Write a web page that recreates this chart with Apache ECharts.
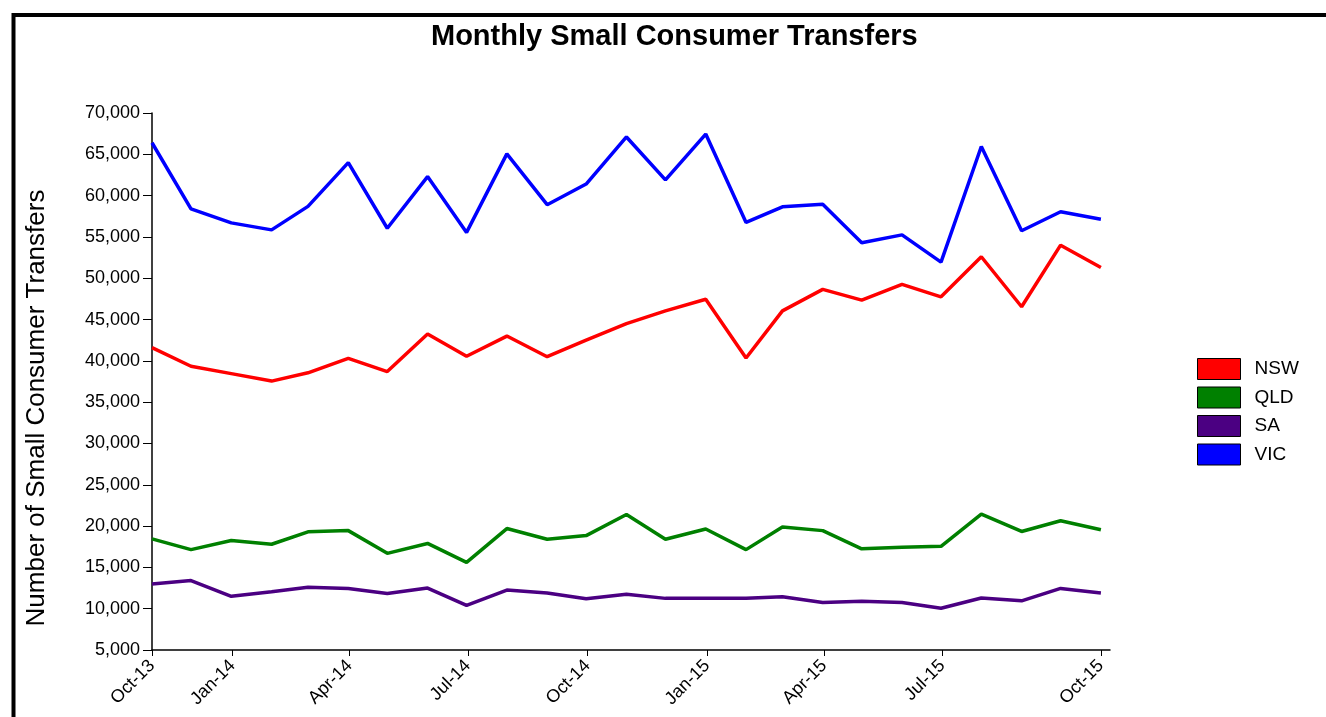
<!DOCTYPE html>
<html>
<head>
<meta charset="utf-8">
<script src="https://cdn.jsdelivr.net/npm/echarts@6/dist/echarts.min.js"></script>
<style>
  html, body { margin: 0; padding: 0; background: #fff; }
  #chart { width: 1326px; height: 717px; }
</style>
</head>
<body>
<div id="chart"></div>
<script>
// month-end dates of each observation
const months = [
  '2013-10-31', '2013-11-30', '2013-12-31', '2014-01-31', '2014-02-28', '2014-03-31',
  '2014-04-30', '2014-05-31', '2014-06-30', '2014-07-31', '2014-08-31', '2014-09-30',
  '2014-10-31', '2014-11-30', '2014-12-31', '2015-01-31', '2015-02-28', '2015-03-31',
  '2015-04-30', '2015-05-31', '2015-06-30', '2015-07-31', '2015-08-31', '2015-09-30',
  '2015-10-31'
]

const nsw = [41600, 39350, 38450, 37550, 38550, 40300, 38700, 43250, 40550, 43000, 40500, 42500,
  44500, 46050, 47450, 40350, 46050, 48650, 47350, 49250, 47750, 52600, 46550, 54000, 51300]
const qld = [18450, 17150, 18250, 17800, 19300, 19450, 16700, 17900, 15600, 19700, 18400, 18850,
  21400, 18400, 19650, 17150, 19900, 19450, 17250, 17450, 17550, 21450, 19350, 20650, 19550]
const sa = [13000, 13400, 11500, 12050, 12600, 12450, 11850, 12500, 10400, 12250, 11900, 11200,
  11750, 11250, 11250, 11250, 11450, 10750, 10900, 10750, 10050, 11300, 10950, 12450, 11900]
const vic = [66400, 58400, 56700, 55850, 58700, 64000, 56050, 62300, 55550, 65050, 58900, 61400,
  67100, 61900, 67450, 56750, 58650, 58950, 54300, 55250, 51950, 65950, 55750, 58050, 57150]

// tick labels: domain ends plus quarter starts
const tickDates = ['2013-10-31', '2014-01-01', '2014-04-01', '2014-07-01', '2014-10-01',
  '2015-01-01', '2015-04-01', '2015-07-01', '2015-10-31']
const monthNames = ['Jan', 'Feb', 'Mar', 'Apr', 'May', 'Jun', 'Jul', 'Aug', 'Sep', 'Oct', 'Nov', 'Dec']

function toTime(s) {
  const p = s.split('-').map(Number)
  return Date.UTC(p[0], p[1] - 1, p[2])
}
function pairs(vals) {
  return vals.map((v, i) => [toTime(months[i]), v])
}

const FONT = 'Liberation Sans'
const chart = echarts.init(document.getElementById('chart'))

chart.setOption({
  backgroundColor: '#ffffff',
  animation: false,
  title: {
    text: 'Monthly Small Consumer Transfers',
    left: 431,
    top: 22,
    padding: 0,
    textStyle: {fontFamily: FONT, fontWeight: 'bold', fontSize: 29, color: '#000'},
  },
  /** 外框 + Y轴标题 */
  graphic: [
    {
      type: 'rect',
      shape: {x: 13.5, y: 15, width: 1400, height: 800},
      style: {fill: 'none', stroke: '#000', lineWidth: 4},
      silent: true,
    },
    {
      type: 'text',
      x: 37,
      y: 408,
      rotation: Math.PI / 2,
      style: {
        text: 'Number of Small Consumer Transfers',
        fontFamily: FONT,
        fontSize: 26,
        fill: '#000',
        align: 'center',
        verticalAlign: 'middle',
      },
    },
  ],
  legend: {
    orient: 'vertical',
    left: 1197,
    top: 358,
    padding: 0,
    icon: 'rect',
    itemWidth: 43,
    itemHeight: 21,
    itemGap: 6.5,
    itemStyle: {borderColor: '#000', borderWidth: 1},
    textStyle: {fontFamily: FONT, fontSize: 19, color: '#000', padding: [0, 0, 0, 9]},
    data: ['NSW', 'QLD', 'SA', 'VIC'],
  },
  grid: {left: 152, right: 216, top: 113, bottom: 67, containLabel: false},
  xAxis: {
    // 数值轴按毫秒时间戳, 刻度自定义
    type: 'value',
    min: toTime('2013-10-31'),
    max: toTime('2015-11-07'),
    axisLine: {lineStyle: {color: '#000', width: 1.5}},
    axisTick: {show: true, length: 6, customValues: tickDates.map(toTime), lineStyle: {color: '#000'}},
    splitLine: {show: false},
    axisLabel: {
      customValues: tickDates.map(toTime),
      rotate: 45,
      margin: 13,
      fontFamily: FONT,
      fontSize: 18,
      color: '#000',
      formatter: function (value) {
        const d = new Date(value)
        return monthNames[d.getUTCMonth()] + '-' + String(d.getUTCFullYear()).slice(2)
      },
    },
  },
  yAxis: {
    type: 'value',
    min: 5000,
    max: 70000,
    interval: 5000,
    axisLine: {show: true, lineStyle: {color: '#000', width: 1.5}},
    axisTick: {show: true, length: 9, lineStyle: {color: '#000'}},
    splitLine: {show: false},
    axisLabel: {
      margin: 12,
      fontFamily: FONT,
      fontSize: 18,
      color: '#000',
      formatter: v => v.toLocaleString('en-US'),
    },
  },
  series: [
    {name: 'NSW', type: 'line', data: pairs(nsw), color: '#ff0000'},
    {name: 'QLD', type: 'line', data: pairs(qld), color: '#008000'},
    {name: 'SA', type: 'line', data: pairs(sa), color: '#4b0082'},
    {name: 'VIC', type: 'line', data: pairs(vic), color: '#0000ff'},
  ].map(s => ({...s, showSymbol: false, symbol: 'none', lineStyle: {width: 3.5, color: s.color}})),
})
</script>
</body>
</html>
